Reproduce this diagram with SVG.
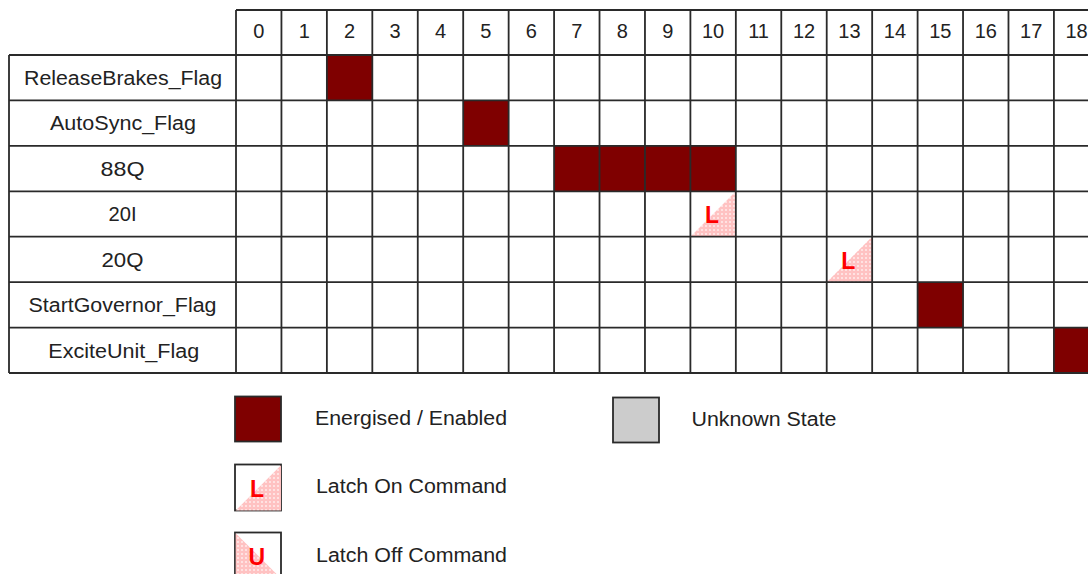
<svg xmlns="http://www.w3.org/2000/svg" width="1088" height="574" viewBox="0 0 1088 574">
<defs>
<pattern id="pinkdots" width="4" height="4" patternUnits="userSpaceOnUse">
<rect width="4" height="4" fill="#ffc2c2"/>
<rect x="1" y="1" width="2" height="2" fill="#ffe2e2"/>
</pattern>
<style>
.lbl{font-family:"Liberation Sans",Arial,sans-serif;font-size:20px;fill:#222;text-anchor:middle}
.num{font-family:"Liberation Sans",Arial,sans-serif;font-size:20px;fill:#222;text-anchor:middle}
.leg{font-family:"Liberation Sans",Arial,sans-serif;font-size:20px;fill:#222}
.on{fill:#7f0000}
.latch{fill:url(#pinkdots)}
.lt{font-family:"Liberation Sans",Arial,sans-serif;font-size:23px;font-weight:bold;fill:#ff0000}
.grid{fill:none;stroke:#2a2a2a;stroke-width:1.8}
.box{stroke:#2a2a2a;stroke-width:1.8}
</style>
</defs>
<rect width="1088" height="574" fill="#ffffff"/>

<g id="header">
<text class="num" x="258.7" y="38">0</text>
<text class="num" x="304.2" y="38">1</text>
<text class="num" x="349.6" y="38">2</text>
<text class="num" x="395" y="38">3</text>
<text class="num" x="440.5" y="38">4</text>
<text class="num" x="485.9" y="38">5</text>
<text class="num" x="531.4" y="38">6</text>
<text class="num" x="576.8" y="38">7</text>
<text class="num" x="622.2" y="38">8</text>
<text class="num" x="667.7" y="38">9</text>
<text class="num" x="713.1" y="38">10</text>
<text class="num" x="758.6" y="38">11</text>
<text class="num" x="804" y="38">12</text>
<text class="num" x="849.4" y="38">13</text>
<text class="num" x="894.9" y="38">14</text>
<text class="num" x="940.3" y="38">15</text>
<text class="num" x="985.8" y="38">16</text>
<text class="num" x="1031.2" y="38">17</text>
<text class="num" x="1076.6" y="38">18</text>
</g>

<g id="row-ReleaseBrakes_Flag">
<text class="lbl" x="123" y="85" textLength="198" lengthAdjust="spacingAndGlyphs">ReleaseBrakes_Flag</text>
<rect class="on" x="326.88" y="55" width="45.44" height="45.43"/>
</g>
<g id="row-AutoSync_Flag">
<text class="lbl" x="123" y="130.4" textLength="146" lengthAdjust="spacingAndGlyphs">AutoSync_Flag</text>
<rect class="on" x="463.2" y="100.43" width="45.44" height="45.43"/>
</g>
<g id="row-88Q">
<text class="lbl" x="122.5" y="175.9" textLength="44" lengthAdjust="spacingAndGlyphs">88Q</text>
<rect class="on" x="554.08" y="145.86" width="181.76" height="45.43"/>
</g>
<g id="row-20I">
<text class="lbl" x="122.5" y="221.3" textLength="28" lengthAdjust="spacingAndGlyphs">20I</text>
<polygon class="latch" points="735.84,191.29 735.84,236.72 690.4,236.72"/>
<text class="lt" x="705" y="223">L</text>
</g>
<g id="row-20Q">
<text class="lbl" x="122.5" y="266.7" textLength="42" lengthAdjust="spacingAndGlyphs">20Q</text>
<polygon class="latch" points="872.16,236.72 872.16,282.15 826.72,282.15"/>
<text class="lt" x="841.3" y="268.5">L</text>
</g>
<g id="row-StartGovernor_Flag">
<text class="lbl" x="122.5" y="312.2" textLength="188" lengthAdjust="spacingAndGlyphs">StartGovernor_Flag</text>
<rect class="on" x="917.6" y="282.15" width="45.44" height="45.43"/>
</g>
<g id="row-ExciteUnit_Flag">
<text class="lbl" x="123.8" y="357.6" textLength="151" lengthAdjust="spacingAndGlyphs">ExciteUnit_Flag</text>
<rect class="on" x="1053.92" y="327.58" width="45.44" height="45.43"/>
</g>

<g id="grid">
<path class="grid" d="M236,10H1090M9,55H1090M9,100.43H1090M9,145.86H1090M9,191.29H1090M9,236.72H1090M9,282.15H1090M9,327.58H1090M9,373.01H1090"/>
<path class="grid" d="M9,55V373.01M236,10V373.01M281.44,10V373.01M326.88,10V373.01M372.32,10V373.01M417.76,10V373.01M463.2,10V373.01M508.64,10V373.01M554.08,10V373.01M599.52,10V373.01M644.96,10V373.01M690.4,10V373.01M735.84,10V373.01M781.28,10V373.01M826.72,10V373.01M872.16,10V373.01M917.6,10V373.01M963.04,10V373.01M1008.48,10V373.01M1053.92,10V373.01"/>
</g>

<g id="legend-energised">
<rect class="on box" x="235" y="396.5" width="46" height="45"/>
<text class="leg" x="315" y="425" textLength="192" lengthAdjust="spacingAndGlyphs">Energised / Enabled</text>
</g>
<g id="legend-unknown">
<rect class="box" fill="#cccccc" x="613" y="397.5" width="46" height="45"/>
<text class="leg" x="691.5" y="426" textLength="145" lengthAdjust="spacingAndGlyphs">Unknown State</text>
</g>
<g id="legend-latch-on">
<rect class="box" fill="#ffffff" x="235" y="464.5" width="46" height="46"/>
<polygon class="latch" points="281,465.2 281,510.5 235.7,510.5"/>
<text class="lt" x="250" y="497">L</text>
<text class="leg" x="316" y="493" textLength="191" lengthAdjust="spacingAndGlyphs">Latch On Command</text>
</g>
<g id="legend-latch-off">
<rect class="box" fill="#ffffff" x="235" y="532.5" width="46" height="46"/>
<polygon class="latch" points="235.7,533.2 235.7,578.5 281,578.5"/>
<text class="lt" x="248.5" y="565">U</text>
<text class="leg" x="316" y="562" textLength="191" lengthAdjust="spacingAndGlyphs">Latch Off Command</text>
</g>
</svg>
